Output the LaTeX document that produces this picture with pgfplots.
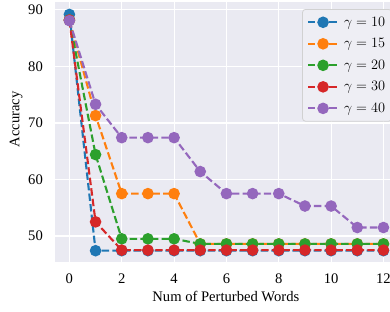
\documentclass[border=0pt]{standalone}
\usepackage{pgfplots}
\pgfplotsset{compat=1.18}
\usepackage{fontspec}
\setmainfont{Liberation Serif}
\definecolor{c1}{HTML}{1F77B4}
\definecolor{c2}{HTML}{FF7F0E}
\definecolor{c3}{HTML}{2CA02C}
\definecolor{c4}{HTML}{D62728}
\definecolor{c5}{HTML}{9467BD}
\definecolor{bg}{HTML}{EAEAF2}
\definecolor{legbg}{HTML}{EEEEF4}
\begin{document}
\begin{tikzpicture}
\begin{axis}[
  scale only axis, width=335bp, height=260bp,
  xmin=-0.55, xmax=12.25, ymin=45.4, ymax=91.4,
  xtick={0,2,...,12}, ytick={50,60,...,90},
  axis background/.style={fill=bg},
  axis line style={draw=none},
  major tick length=0pt,
  grid=major, grid style={white, line width=1.1bp},
  font=\fontsize{14.6bp}{17bp}\selectfont,
  tick label style={font=\fontsize{14.6bp}{17bp}\selectfont, inner sep=0pt},
  /pgf/number format/assume math mode=true,
  xticklabel shift=12bp, yticklabel shift=12bp,
  xlabel={Num of Perturbed Words}, ylabel={Accuracy},
  xlabel style={at={(axis description cs:0.51,-0.152)}, anchor=base, inner sep=0pt},
  ylabel style={at={(axis description cs:-0.1164,0.548)}, anchor=center, inner sep=0pt},
  every axis plot/.append style={line width=2.1bp, dash pattern=on 7.4bp off 3.2bp, mark=*, mark size=4.7bp},
  legend image code/.code={\draw[mark repeat=2,mark phase=2] plot coordinates {(0bp,0bp) (15bp,0bp) (30bp,0bp)};},
  legend style={at={(1.006,0.973)}, anchor=north east, fill=legbg, draw=black!18, line width=0.8bp,
    rounded corners=3bp, font=\fontsize{15bp}{17bp}\selectfont, row sep=6.8bp, inner xsep=4.5bp, inner ysep=5.5bp,
    /tikz/every odd column/.append style={column sep=3bp},
    cells={anchor=west}},
]
\addplot[c1, mark options={solid, fill=c1, draw=c1}] coordinates {
 (0,89.2) (1,47.4) (2,47.4) (3,47.4) (4,47.4) (5,47.4) (6,47.4) (7,47.4) (8,47.4) (9,47.4) (10,47.4) (11,47.4) (12,47.4)};
\addlegendentry{$\gamma = 10$}
\addplot[c2, mark options={solid, fill=c2, draw=c2}] coordinates {
 (0,88.2) (1,71.3) (2,57.5) (3,57.5) (4,57.5) (5,48.6) (6,48.6) (7,48.6) (8,48.6) (9,48.6) (10,48.6) (11,48.6) (12,48.6)};
\addlegendentry{$\gamma = 15$}
\addplot[c3, mark options={solid, fill=c3, draw=c3}] coordinates {
 (0,88.2) (1,64.4) (2,49.5) (3,49.5) (4,49.5) (5,48.6) (6,48.6) (7,48.6) (8,48.6) (9,48.6) (10,48.6) (11,48.6) (12,48.6)};
\addlegendentry{$\gamma = 20$}
\addplot[c4, mark options={solid, fill=c4, draw=c4}] coordinates {
 (0,88.2) (1,52.5) (2,47.5) (3,47.5) (4,47.5) (5,47.5) (6,47.5) (7,47.5) (8,47.5) (9,47.5) (10,47.5) (11,47.5) (12,47.5)};
\addlegendentry{$\gamma = 30$}
\addplot[c5, mark options={solid, fill=c5, draw=c5}] coordinates {
 (0,88.1) (1,73.3) (2,67.4) (3,67.4) (4,67.4) (5,61.4) (6,57.5) (7,57.5) (8,57.5) (9,55.3) (10,55.3) (11,51.5) (12,51.5)};
\addlegendentry{$\gamma = 40$}
\end{axis}
\pgfresetboundingbox
\path[use as bounding box] ([xshift=-55bp,yshift=-50bp]current axis.south west) rectangle ([yshift=2bp]current axis.north east);
\end{tikzpicture}
\end{document}
